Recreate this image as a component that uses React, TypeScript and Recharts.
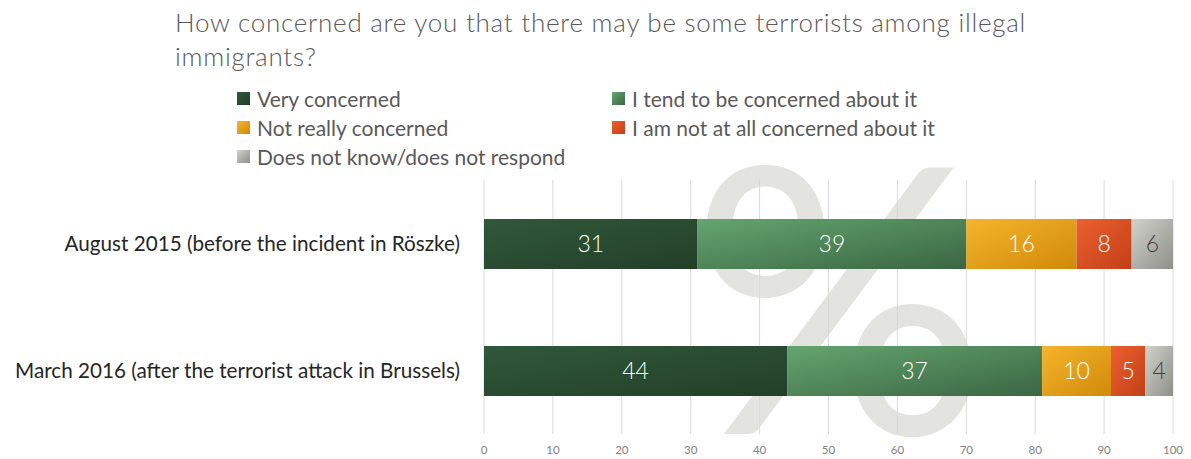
import * as React from 'react';
import { BarChart, Bar, XAxis, YAxis, CartesianGrid, LabelList } from 'recharts';

const periods = [
  'August 2015 (before the incident in Röszke)',
  'March 2016 (after the terrorist attack in Brussels)',
];
const veryConcerned = [31, 44];
const tendConcerned = [39, 37];
const notReally = [16, 10];
const notAtAll = [8, 5];
const dontKnow = [6, 4];
const xTicks = [0, 10, 20, 30, 40, 50, 60, 70, 80, 90, 100];

const series = [
  { key: 'very', name: 'Very concerned', from: '#30583a', to: '#223f28', label: '#ffffff' },
  { key: 'tend', name: 'I tend to be concerned about it', from: '#64a56f', to: '#3a6643', label: '#ffffff' },
  { key: 'notReally', name: 'Not really concerned', from: '#f6b52c', to: '#d08a0a', label: '#ffffff' },
  { key: 'notAtAll', name: 'I am not at all concerned about it', from: '#ec6030', to: '#c23f17', label: '#ffffff' },
  { key: 'dk', name: 'Does not know/does not respond', from: '#d2d2cc', to: '#8e9089', label: '#404040' },
];

const data = periods.map((p, i) => ({
  period: p,
  very: veryConcerned[i],
  tend: tendConcerned[i],
  notReally: notReally[i],
  notAtAll: notAtAll[i],
  dk: dontKnow[i],
}));

const FONT = 'Lato, "Open Sans", sans-serif';

export default function App() {
  const legendPos = [
    { left: 237, top: 86 },
    { left: 612, top: 86 },
    { left: 237, top: 115 },
    { left: 612, top: 115 },
    { left: 237, top: 144 },
  ];

  return (
    <div style={{ position: 'absolute', left: 0, top: 0, width: 1191, height: 459, background: '#fff', fontFamily: FONT, overflow: 'hidden' }}>
      <div style={{ position: 'absolute', left: 175, top: 5, fontSize: 26, lineHeight: '34px', letterSpacing: 0.75, color: '#595959', fontWeight: 300 }}>
        How concerned are you that there may be some terrorists among illegal
        <br />
        immigrants?
      </div>
      {series.map((s, i) => (
        <div key={s.key} style={{ position: 'absolute', left: legendPos[i].left, top: legendPos[i].top, display: 'flex', alignItems: 'center', fontSize: 21, color: '#595959', whiteSpace: 'nowrap' }}>
          <span style={{ display: 'inline-block', width: 13, height: 13, marginRight: 7, background: `linear-gradient(135deg, ${s.from}, ${s.to})` }} />
          {s.name}
        </div>
      ))}
      <div style={{ position: 'absolute', left: 690, top: 104, fontSize: 372, lineHeight: '372px', color: '#e3e3df', fontWeight: 400 }}>%</div>
      <div style={{ position: 'absolute', left: 0, top: 0 }}>
        <BarChart
          width={1191}
          height={459}
          data={data}
          layout="vertical"
          barSize={50}
          margin={{ top: 180, right: 18, left: 0, bottom: 0 }}
        >
          <defs>
            {series.map((s) => (
              <linearGradient key={s.key} id={`g-${s.key}`} x1="0" y1="0" x2="1" y2="1">
                <stop offset="0%" stopColor={s.from} />
                <stop offset="100%" stopColor={s.to} />
              </linearGradient>
            ))}
          </defs>
          <CartesianGrid vertical horizontal={false} stroke="#d9d9d9" />
          <XAxis
            type="number"
            domain={[0, 100]}
            ticks={xTicks}
            height={25}
            axisLine={false}
            tickLine={false}
            tickMargin={6}
            tick={{ fontSize: 11.5, fill: '#7f7f7f', fontFamily: FONT }}
          />
          <YAxis
            type="category"
            dataKey="period"
            width={484}
            axisLine={false}
            tickLine={false}
            tickMargin={18}
            tick={{ fontSize: 20.7, fill: '#262626', fontFamily: FONT }}
          />
          {series.map((s) => (
            <Bar key={s.key} dataKey={s.key} name={s.name} stackId="a" fill={`url(#g-${s.key})`} isAnimationActive={false}>
              <LabelList dataKey={s.key} position="center" fill={s.label} fontSize={23} fontWeight={300} fontFamily={FONT} />
            </Bar>
          ))}
        </BarChart>
      </div>
    </div>
  );
}
